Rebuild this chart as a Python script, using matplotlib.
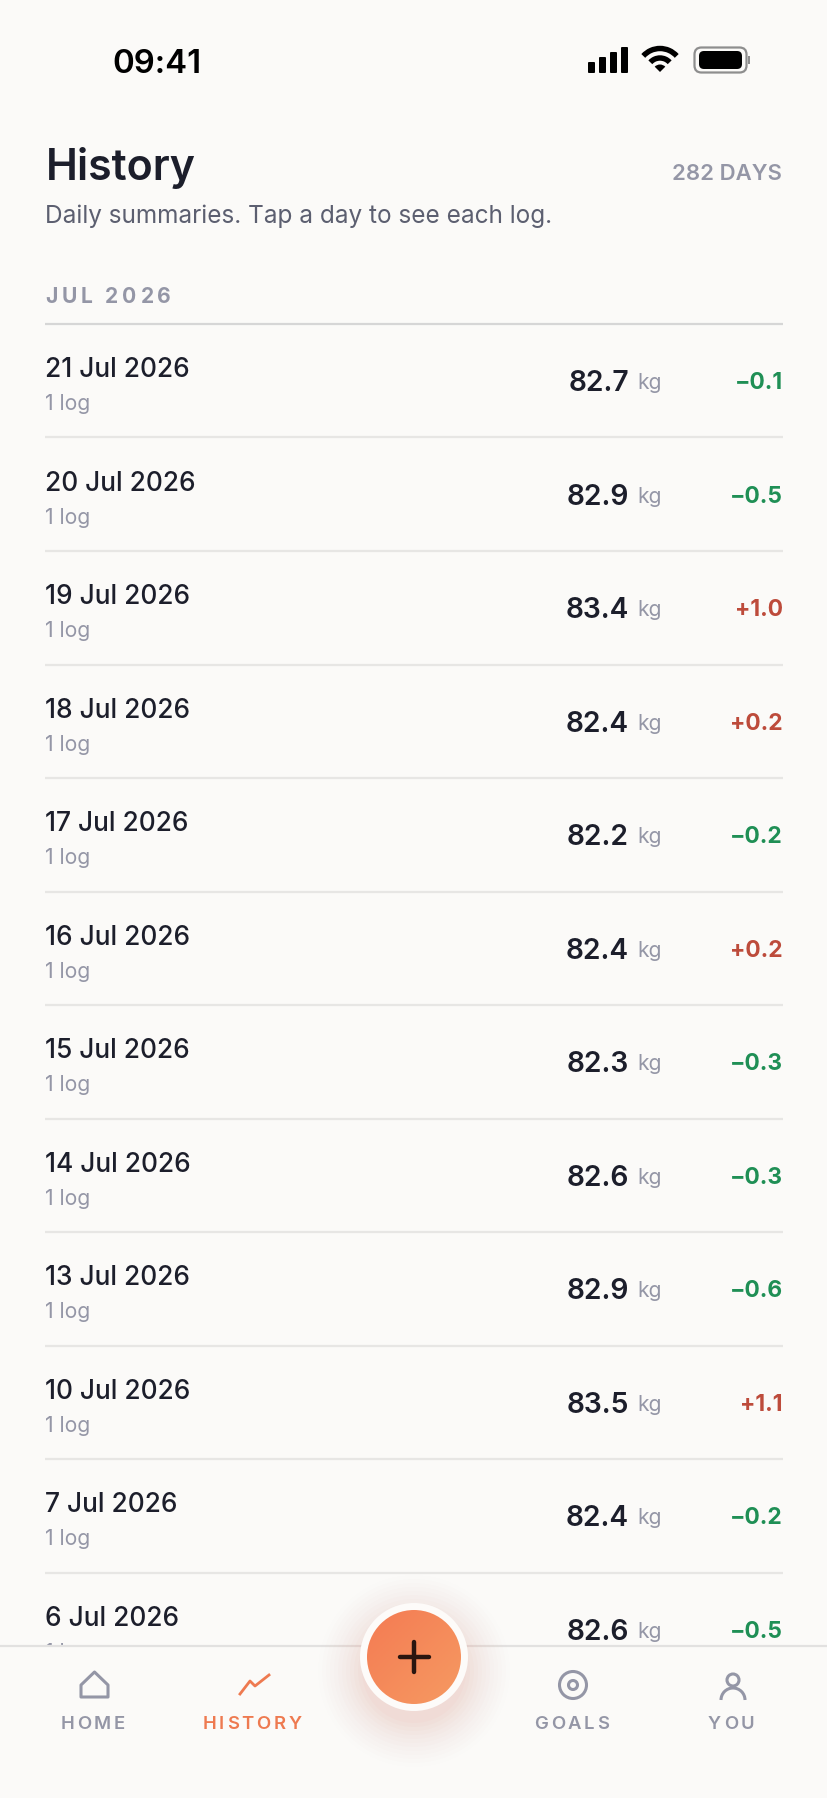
import matplotlib
matplotlib.use('Agg')
import matplotlib.pyplot as plt
import numpy as np
from matplotlib.patches import Circle, FancyBboxPatch, Polygon, Rectangle, Arc, Wedge
from matplotlib.font_manager import FontProperties

dates = ['21 Jul 2026', '20 Jul 2026', '19 Jul 2026', '18 Jul 2026', '17 Jul 2026', '16 Jul 2026',
         '15 Jul 2026', '14 Jul 2026', '13 Jul 2026', '10 Jul 2026', '7 Jul 2026', '6 Jul 2026']
weights = [82.7, 82.9, 83.4, 82.4, 82.2, 82.4, 82.3, 82.6, 82.9, 83.5, 82.4, 82.6]
deltas = [-0.1, -0.5, 1.0, 0.2, -0.2, 0.2, -0.3, -0.3, -0.6, 1.1, -0.2, -0.5]
nav_labels = ['HOME', 'HISTORY', 'GOALS', 'YOU']

BG = '#FBFAF8'
DARK = '#1C1E2B'
GREY = '#9496A6'
MID = '#5C5F70'
GREEN = '#1F8F55'
RED = '#BD4B3B'
ORANGE = '#EE7A50'
LINE = '#E7E6E4'
FONT = 'Inter'

fig = plt.figure(figsize=(8.28, 17.99), dpi=100, facecolor=BG)
ax = fig.add_axes([0, 0, 1, 1])
ax.set_xlim(0, 828)
ax.set_ylim(1799, 0)
ax.axis('off')


def label(x, y, s, px, color=DARK, weight='normal', ha='left', z=3):
    # px is the font size in figure pixels
    return ax.text(x, y, s, fontsize=px * 0.72, color=color, fontweight=weight, ha=ha,
                   va='baseline', family=[FONT, 'DejaVu Sans'], zorder=z)


def spaced(x, y, s, px, gap, color, weight='semibold', center=False, z=3):
    # matplotlib has no letter spacing so place the letters one by one
    prop = FontProperties(family=[FONT, 'DejaVu Sans'], size=px * 0.72, weight=weight)
    rend = fig.canvas.get_renderer()
    adv = [rend.get_text_width_height_descent(s[:i], prop, False)[0] if i else 0 for i in range(len(s) + 1)]
    total = adv[-1] + gap * (len(s) - 1)
    x0 = x - total / 2 if center else x
    for i, ch in enumerate(s):
        label(x0 + adv[i] + gap * i, y, ch, px, color, weight, z=z)


# status bar
label(112, 73, '09:41', 33, '#000000', 'semibold')
for bx, top in zip([588, 599, 610, 621], [63, 58, 53, 48]):
    ax.add_patch(FancyBboxPatch((bx + 1, top + 1), 5, 72 - top, boxstyle='round,pad=1', fc='black', ec='none'))
ax.add_patch(Wedge((660, 73), 7.5, 225, 315, fc='black', ec='none'))
for r in [13, 22.5]:
    ax.add_patch(Arc((660, 72), r * 2, r * 2, theta1=222, theta2=318, color='black', lw=3.9))
ax.add_patch(FancyBboxPatch((697, 51), 47, 20, boxstyle='round,pad=2.5,rounding_size=7', fc='none', ec='#8E8E8E', lw=1.6))
ax.add_patch(FancyBboxPatch((700, 53), 41, 16, boxstyle='round,pad=1,rounding_size=5', fc='black', ec='none'))
ax.add_patch(Rectangle((748, 57), 2.5, 8, fc='#8E8E8E', ec='none'))

# header
label(46, 180, 'History', 42.8, DARK, 'semibold')
label(782, 180, '282 DAYS', 22.2, GREY, 'semibold', ha='right')
label(45.5, 223, 'Daily summaries. Tap a day to see each log.', 24.35, MID)
spaced(45, 303, 'JUL 2026', 21, 3.9, GREY, 'bold')
ax.plot([45.5, 783], [324.5, 324.5], color='#D6D6D6', lw=1.6, solid_capstyle='butt', zorder=1)

# rows
row_h = 113.55
for i, (d, w, ch) in enumerate(zip(dates, weights, deltas)):
    top = 324.5 + i * row_h
    label(45.5, top + 52.5, d, 26.3, DARK, 'medium')
    label(45.5, top + 85.5, '1 log', 21, GREY)
    label(629, top + 66.5, f'{w:.1f}', 28.2, DARK, 'semibold', ha='right')
    label(662, top + 64.5, 'kg', 21, GREY, ha='right')
    txt = f'+{ch:.1f}' if ch > 0 else f'\u2212{abs(ch):.1f}'
    label(783, top + 64.5, txt, 22.8, RED if ch > 0 else GREEN, 'bold', ha='right')
    if i < len(dates) - 1:
        ax.plot([45.5, 783], [top + row_h + 0.4, top + row_h + 0.4], color=LINE, lw=1.6, solid_capstyle='butt', zorder=1)

# bottom nav covers the last row
ax.add_patch(Rectangle((0, 1647), 828, 152, fc=BG, ec='none', zorder=5))
ax.plot([0, 828], [1647, 1647], color='#E2E1E0', lw=1.6, zorder=6)
for lab, cx, col in zip(nav_labels, [93, 252, 571.5, 731], [GREY, ORANGE, GREY, GREY]):
    spaced(cx, 1729, lab, 18.5, 2.7, col, center=True, z=7)

ax.add_patch(Polygon([(81, 1698), (81, 1686), (94.5, 1673), (108, 1686), (108, 1698)], closed=True,
                     fc='none', ec=GREY, lw=2.2, joinstyle='round', zorder=7))
ax.plot([240, 250, 255, 269], [1695, 1682, 1687, 1676], color=ORANGE, lw=2.0, solid_joinstyle='round', zorder=7)
ax.add_patch(Circle((573, 1686), 13.5, fc='none', ec=GREY, lw=2.2, zorder=7))
ax.add_patch(Circle((573, 1686), 4.5, fc='none', ec=GREY, lw=2.2, zorder=7))
ax.add_patch(Circle((733, 1681), 6, fc='none', ec=GREY, lw=2.2, zorder=7))
ax.add_patch(Arc((733, 1701), 24, 24, theta1=180, theta2=360, color=GREY, lw=2.2, zorder=7))

# plus button: glow, ring, gradient disc
for r, a in zip(np.arange(96, 50, -4), np.linspace(0.005, 0.028, 12)):
    ax.add_patch(Circle((414, 1672), r, fc='#F0705A', ec='none', alpha=a, zorder=8))
ax.add_patch(Circle((414, 1658), 54, fc='#FDFBF9', ec='none', zorder=9))
grad = np.add.outer(np.linspace(0, 1, 64), np.linspace(0, 1, 64)) / 2
cmap = matplotlib.colors.LinearSegmentedColormap.from_list('fab', ['#F47B53', '#F69A62'])
im = ax.imshow(grad, extent=(367, 461, 1705, 1611), cmap=cmap, zorder=10, aspect='auto')
im.set_clip_path(Circle((414, 1658), 47, transform=ax.transData))
ax.set_xlim(0, 828)
ax.set_ylim(1799, 0)
ax.plot([400, 429], [1658, 1658], color='#2A1610', lw=3.2, solid_capstyle='round', zorder=11)
ax.plot([414, 414], [1643, 1673], color='#2A1610', lw=3.2, solid_capstyle='round', zorder=11)

fig.savefig('out.png', dpi=100, facecolor=BG)
